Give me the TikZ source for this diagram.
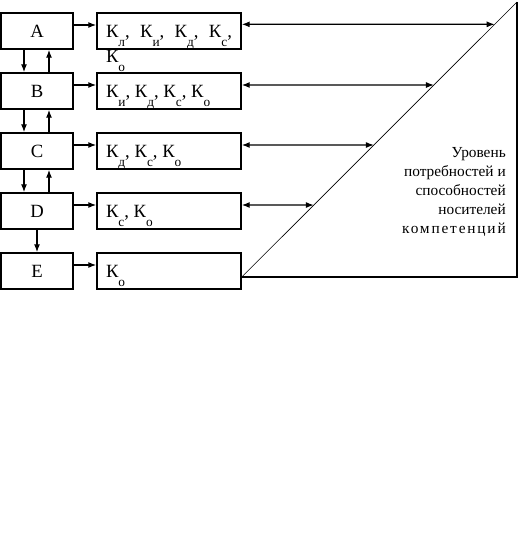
\documentclass[tikz,border=0pt]{standalone}
\usepackage{fontspec}
\setmainfont{Liberation Serif}
\usetikzlibrary{arrows.meta,positioning}
\newcommand{\Ksub}[1]{К\raisebox{-6.75pt}{\fontsize{10}{10}\selectfont #1}}

\begin{document}
\begin{tikzpicture}[x=0.75pt, y=-0.75pt, >={Latex[length=6pt,width=4.5pt]},
  font=\fontsize{14}{18.75}\selectfont,
  lvl/.style={draw, line width=1.1pt, minimum width=54pt, minimum height=27pt, inner sep=0pt},
  kbox/.style={draw, line width=1.1pt, minimum width=108pt, minimum height=27pt,
               text width=94.5pt, inner xsep=6.75pt, inner ysep=0pt, align=justify,
               text height=9pt, text depth=0pt},
  sig/.style={->, line width=0.9pt},
  dsig/.style={<->, line width=0.9pt}]
  \useasboundingbox (0,0) rectangle (518,554);

  % --- levels on the left ---
  \node[lvl] (A) at (37,31)  {A};
  \node[lvl] (B) at (37,91)  {B};
  \node[lvl] (C) at (37,151) {C};
  \node[lvl] (D) at (37,211) {D};
  \node[lvl] (E) at (37,271) {E};

  \draw[sig] ([xshift=-9.75pt]A.south) -- ([xshift=-9.75pt]B.north);
  \draw[sig] ([xshift=9pt]B.north) -- ([xshift=9pt]A.south);
  \draw[sig] ([xshift=-9.75pt]B.south) -- ([xshift=-9.75pt]C.north);
  \draw[sig] ([xshift=9pt]C.north) -- ([xshift=9pt]B.south);
  \draw[sig] ([xshift=-9.75pt]C.south) -- ([xshift=-9.75pt]D.north);
  \draw[sig] ([xshift=9pt]D.north) -- ([xshift=9pt]C.south);
  \draw[sig] (D) -- (E);

  % --- competences per level ---
  \node[kbox] (kA) at (169,31)  {\Ksub{л}, \Ksub{и}, \Ksub{д}, \Ksub{с}, \Ksub{о}};
  \node[kbox] (kB) at (169,91)  {\Ksub{и}, \Ksub{д}, \Ksub{с}, \Ksub{о}};
  \node[kbox] (kC) at (169,151) {\Ksub{д}, \Ksub{с}, \Ksub{о}};
  \node[kbox] (kD) at (169,211) {\Ksub{с}, \Ksub{о}};
  \node[kbox] (kE) at (169,271) {\Ksub{о}};

  \draw[sig] ([yshift=4.5pt]A.east) -- ([yshift=4.5pt]kA.west);
  \draw[sig] ([yshift=4.5pt]B.east) -- ([yshift=4.5pt]kB.west);
  \draw[sig] ([yshift=4.5pt]C.east) -- ([yshift=4.5pt]kC.west);
  \draw[sig] ([yshift=4.5pt]D.east) -- ([yshift=4.5pt]kD.west);
  \draw[sig] ([yshift=4.5pt]E.east) -- ([yshift=4.5pt]kE.west);

  % --- triangle of needs and abilities ---
  \coordinate (tl) at ([yshift=-4.5pt]kE.east);
  \coordinate (tt) at (517,2);
  \coordinate (tr) at (517,277);
  \draw[line width=1.1pt] (tl) -- (tr) -- (tt);
  \draw[line width=0.5pt] (tl) -- (tt);

  \coordinate (pA) at ([yshift=5pt]kA.east);
  \coordinate (pB) at ([yshift=4.5pt]kB.east);
  \coordinate (pC) at ([yshift=4.5pt]kC.east);
  \coordinate (pD) at ([yshift=4.5pt]kD.east);
  \coordinate (qA) at (pA -| tr);
  \coordinate (qB) at (pB -| tr);
  \coordinate (qC) at (pC -| tr);
  \coordinate (qD) at (pD -| tr);
  \draw[dsig] (pA) -- (intersection of tl--tt and pA--qA);
  \draw[dsig] (pB) -- (intersection of tl--tt and pB--qB);
  \draw[dsig] (pC) -- (intersection of tl--tt and pC--qC);
  \draw[dsig] (pD) -- (intersection of tl--tt and pD--qD);

  \node[align=right, inner sep=0pt, anchor=east, font=\fontsize{11.5}{14.25}\selectfont] (need) at (506,192)
    {Уровень\\потребностей и\\способностей\\носителей\\{\addfontfeature{LetterSpace=12}компетенций}};
\end{tikzpicture}
\end{document}
